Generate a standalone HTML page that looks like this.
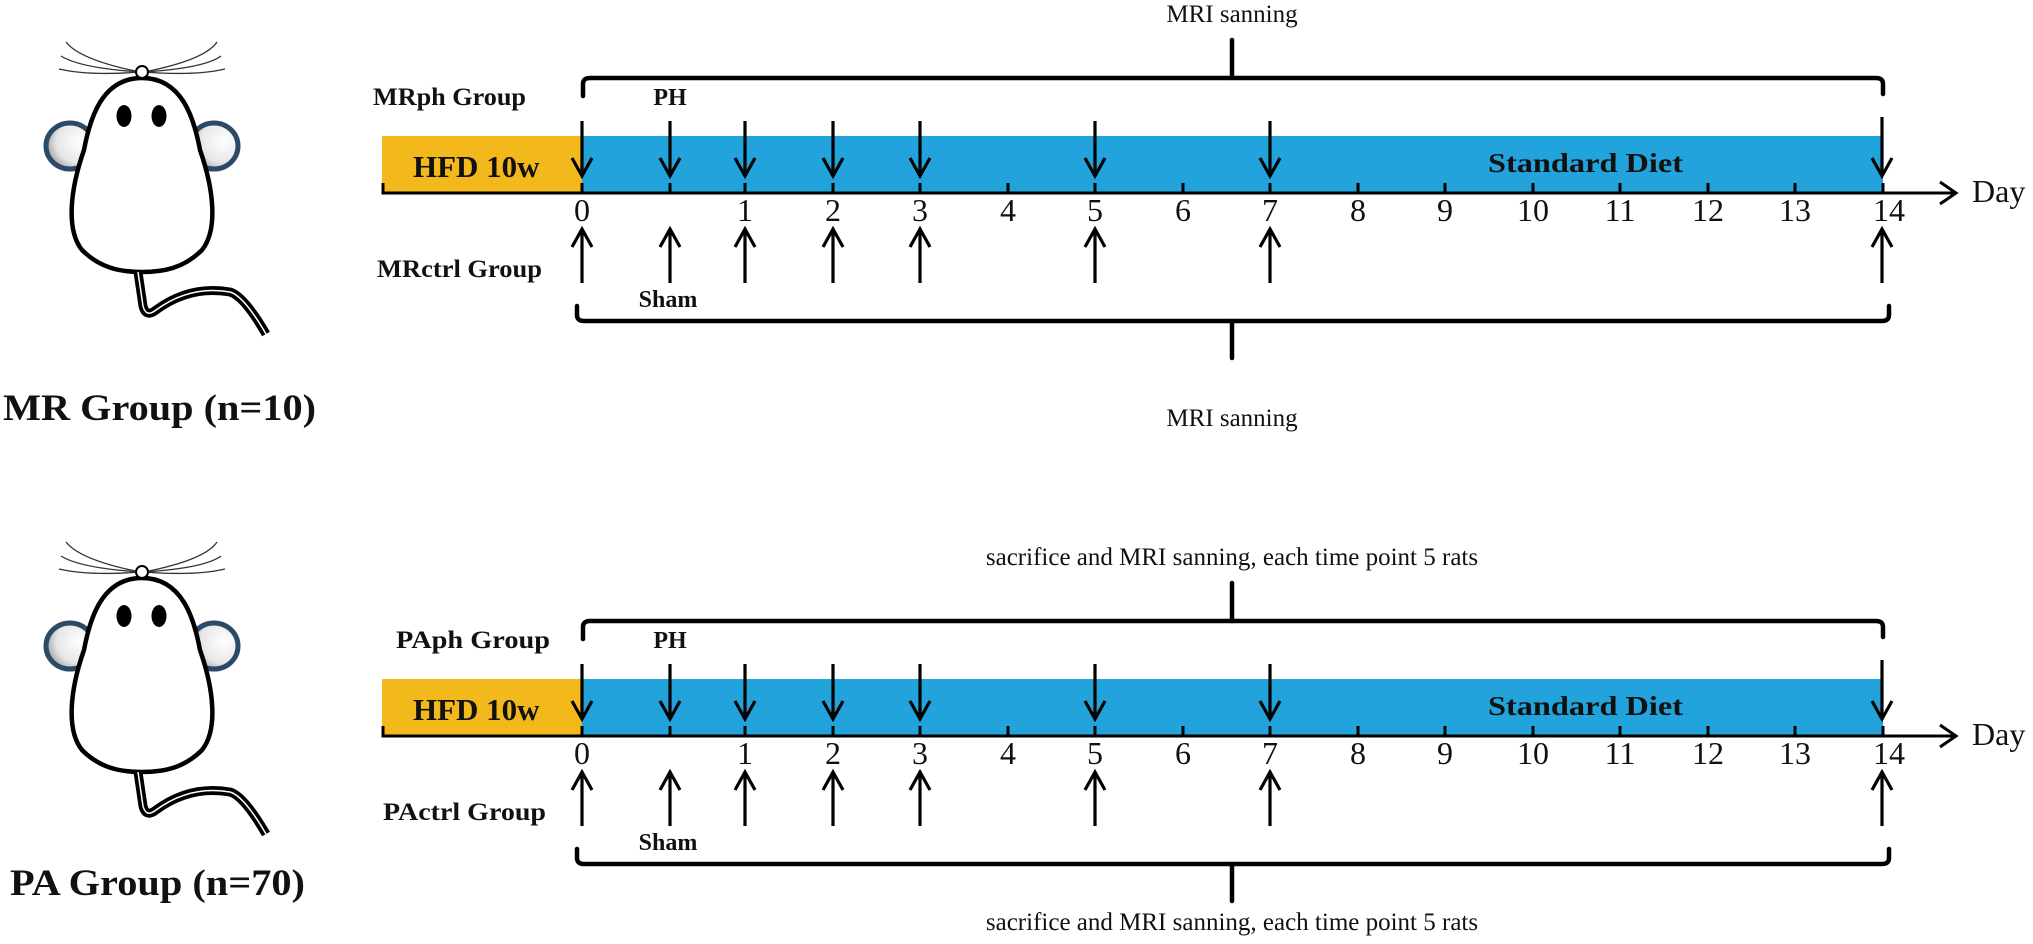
<!DOCTYPE html>
<html><head><meta charset="utf-8"><style>
html,body{margin:0;padding:0;background:#fff;}
svg{display:block;}
text{font-family:"Liberation Serif",serif;fill:#111;}
.b{font-weight:bold;}
</style></head><body>
<svg width="2033" height="944" viewBox="0 0 2033 944" xmlns="http://www.w3.org/2000/svg">
<defs>
<radialGradient id="ear" cx="0.7" cy="0.4" r="0.8">
<stop offset="0" stop-color="#ffffff"/><stop offset="0.6" stop-color="#e6e6e6"/><stop offset="1" stop-color="#8a8a8a"/>
</radialGradient>
<g id="mouse">
<g fill="none" stroke="#333" stroke-width="1.3">
<path d="M66 42 Q80 60 140 72"/><path d="M61 56 Q80 68 140 72"/><path d="M59 69 Q90 76 140 72"/>
<path d="M217 42 Q205 60 144 72"/><path d="M221 56 Q205 68 144 72"/><path d="M225 69 Q195 76 144 72"/>
</g>
<ellipse cx="70" cy="146" rx="24" ry="23" fill="url(#ear)" stroke="#2b4a66" stroke-width="5"/>
<ellipse cx="214" cy="146" rx="24" ry="23" fill="url(#ear)" stroke="#2b4a66" stroke-width="5"/>
<path d="M142 78 C102 78 90 118 84 150 C70 190 66 230 82 250 C100 268 120 272 142 272 C164 272 184 268 202 250 C218 230 214 190 200 150 C194 118 182 78 142 78 Z" fill="#fff" stroke="#000" stroke-width="4.5"/>
<circle cx="142" cy="72" r="6" fill="#fff" stroke="#000" stroke-width="2"/>
<ellipse cx="124" cy="116" rx="7.5" ry="11" fill="#000"/>
<ellipse cx="159" cy="116" rx="7.5" ry="11" fill="#000"/>
<path d="M138 272 L143 306 Q146 318 156 310 Q190 285 230 292 Q244 296 266 334" fill="none" stroke="#000" stroke-width="9"/>
<path d="M138 272 L143 306 Q146 318 156 310 Q190 285 230 292 Q244 296 266 334" fill="none" stroke="#fff" stroke-width="1.5"/>
</g>
<g id="tl">
<rect x="382" y="136" width="200" height="57" fill="#f3b81b"/>
<rect x="582" y="136" width="1301" height="57" fill="#22a3dc"/>
<g stroke="#000" stroke-width="3" fill="none">
<path d="M383 183 L383 193 L1954 193"/>
<path d="M1940 182 L1956 193 L1940 204"/>
<path d="M582 183V193 M670 183V193 M745 183V193 M833 183V193 M920 183V193 M1008 183V193 M1095 183V193 M1183 183V193 M1270 183V193 M1358 183V193 M1445 183V193 M1533 183V193 M1620 183V193 M1708 183V193 M1795 183V193 M1883 183V193"/>
</g>
<g stroke="#000" stroke-width="4.5" fill="none" stroke-linecap="round">
<path d="M583 96 L583 84 Q583 78 590 78 L1876 78 Q1883 78 1883 84 L1883 94"/>
<path d="M1232 40 L1232 78"/>
<path d="M577 306 L577 315 Q577 321 584 321 L1882 321 Q1889 321 1889 315 L1889 306"/>
<path d="M1232 321 L1232 358"/>
</g>
<g stroke="#000" stroke-width="3.2" fill="none">
<path d="M582 121V176 M572 158L582 176L592 158"/>
<path d="M670 121V176 M660 158L670 176L680 158"/>
<path d="M745 121V176 M735 158L745 176L755 158"/>
<path d="M833 121V176 M823 158L833 176L843 158"/>
<path d="M920 121V176 M910 158L920 176L930 158"/>
<path d="M1095 121V176 M1085 158L1095 176L1105 158"/>
<path d="M1270 121V176 M1260 158L1270 176L1280 158"/>
<path d="M1882 117V176 M1872 158L1882 176L1892 158"/>
<path d="M582 283V229 M572 247L582 229L592 247"/>
<path d="M670 283V229 M660 247L670 229L680 247"/>
<path d="M745 283V229 M735 247L745 229L755 247"/>
<path d="M833 283V229 M823 247L833 229L843 247"/>
<path d="M920 283V229 M910 247L920 229L930 247"/>
<path d="M1095 283V229 M1085 247L1095 229L1105 247"/>
<path d="M1270 283V229 M1260 247L1270 229L1280 247"/>
<path d="M1882 283V229 M1872 247L1882 229L1892 247"/>
</g>
<g font-size="32" text-anchor="middle">
<text x="582" y="221">0</text><text x="745" y="221">1</text><text x="833" y="221">2</text><text x="920" y="221">3</text><text x="1008" y="221">4</text><text x="1095" y="221">5</text><text x="1183" y="221">6</text><text x="1270" y="221">7</text><text x="1358" y="221">8</text><text x="1445" y="221">9</text><text x="1533" y="221">10</text><text x="1620" y="221">11</text><text x="1708" y="221">12</text><text x="1795" y="221">13</text><text x="1889" y="221">14</text>
</g>
<text x="1972" y="202" font-size="32">Day</text>
<text x="413" y="177" font-size="31" class="b">HFD 10w</text>
<text x="1488" y="172" font-size="27" class="b" textLength="195" lengthAdjust="spacingAndGlyphs">Standard Diet</text>
<text x="670" y="105" font-size="24" class="b" text-anchor="middle">PH</text>
<text x="668" y="307" font-size="24" class="b" text-anchor="middle">Sham</text>
</g>
</defs>

<use href="#mouse"/>
<use href="#mouse" y="500"/>
<use href="#tl"/>
<use href="#tl" y="543"/>

<text x="373" y="105" font-size="25" class="b" textLength="153" lengthAdjust="spacingAndGlyphs">MRph Group</text>
<text x="377" y="277" font-size="25" class="b" textLength="165" lengthAdjust="spacingAndGlyphs">MRctrl Group</text>
<text x="1232" y="22" font-size="25" text-anchor="middle">MRI sanning</text>
<text x="1232" y="426" font-size="25" text-anchor="middle">MRI sanning</text>
<text x="3" y="420" font-size="37" class="b" textLength="313" lengthAdjust="spacingAndGlyphs">MR Group (n=10)</text>

<text x="396" y="648" font-size="25" class="b" textLength="154" lengthAdjust="spacingAndGlyphs">PAph Group</text>
<text x="383" y="820" font-size="25" class="b" textLength="163" lengthAdjust="spacingAndGlyphs">PActrl Group</text>
<text x="1232" y="565" font-size="25" text-anchor="middle">sacrifice and MRI sanning, each time point 5 rats</text>
<text x="1232" y="930" font-size="25" text-anchor="middle">sacrifice and MRI sanning, each time point 5 rats</text>
<text x="10" y="895" font-size="37" class="b" textLength="295" lengthAdjust="spacingAndGlyphs">PA Group (n=70)</text>
</svg>
</body></html>
